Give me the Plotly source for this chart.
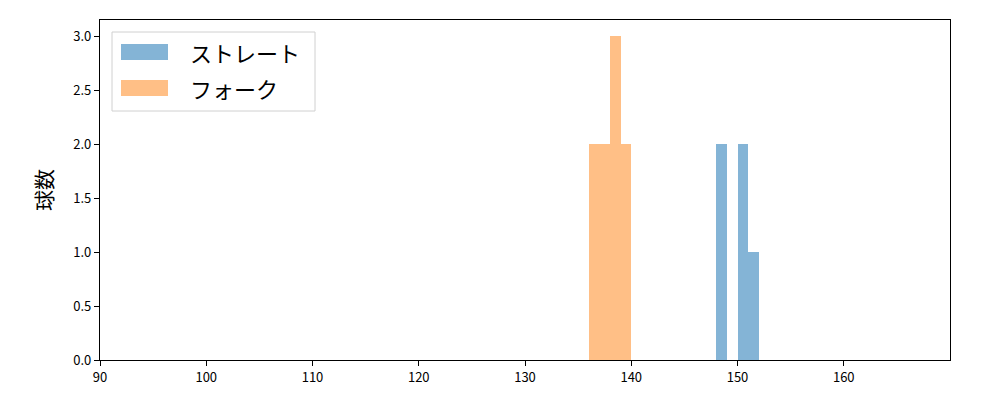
import plotly.graph_objects as go

# Histogram data (bin edges and counts)
straight_edges = [148, 149, 150, 151, 152]
straight_counts = [2, 0, 2, 1]
fork_edges = [136, 137, 138, 139, 140]
fork_counts = [2, 2, 3, 2]

series_names = ["ストレート", "フォーク"]
colors = ["rgba(31,119,180,0.55)", "rgba(255,127,14,0.5)"]

x_ticks = [90, 100, 110, 120, 130, 140, 150, 160]
y_ticks = [0.0, 0.5, 1.0, 1.5, 2.0, 2.5, 3.0]

FONT = "Noto Sans CJK JP"


def bar_trace(edges, counts, name, color):
    centers = [(edges[i] + edges[i + 1]) / 2 for i in range(len(counts))]
    widths = [edges[i + 1] - edges[i] for i in range(len(counts))]
    return go.Bar(x=centers, y=counts, width=widths, name=name,
                  marker=dict(color=color, line=dict(width=0)),
                  showlegend=False)


fig = go.Figure()
fig.add_trace(bar_trace(straight_edges, straight_counts, series_names[0], colors[0]))
fig.add_trace(bar_trace(fork_edges, fork_counts, series_names[1], colors[1]))

# page body has an 8px margin; compensate so the plot area lands at x 100-950, y 20-360
fig.update_layout(
    width=992, height=392,
    margin=dict(l=92, r=50, t=12, b=40),
    plot_bgcolor="white", paper_bgcolor="white",
    barmode="overlay", bargap=0,
    font=dict(family=FONT, size=13, color="black"),
)
fig.update_xaxes(range=[90, 170], tickvals=x_ticks, ticks="outside", ticklen=5,
                 tickcolor="black", showline=True, linecolor="black", linewidth=1.3,
                 mirror=True, showgrid=False, zeroline=False,
                 tickfont=dict(size=13))
fig.update_yaxes(range=[0, 3.15], tickvals=y_ticks, tickformat=".1f", ticks="outside",
                 ticklen=5, tickcolor="black", showline=True, linecolor="black",
                 linewidth=1.3, mirror=True, showgrid=False, zeroline=False,
                 tickfont=dict(size=13),
                 title=dict(text="球数", font=dict(size=21), standoff=14))

# Manual legend (matplotlib-like large swatches)
L, T = 92, 12  # offsets of plot area within figure (px)
W, H = 850, 340  # plot area in px


def px(x):
    return (x - 100) / W


def py(y):
    return 1 - (y - 20) / H


fig.add_shape(type="rect", xref="paper", yref="paper",
              x0=px(112), x1=px(315), y0=py(111), y1=py(32),
              line=dict(color="#d0d0d0", width=1), fillcolor="rgba(255,255,255,0.8)")
for i, (name, color) in enumerate(zip(series_names, colors)):
    top = 44 + i * 36
    fig.add_shape(type="rect", xref="paper", yref="paper",
                  x0=px(121), x1=px(168), y0=py(top + 16), y1=py(top),
                  line=dict(width=0), fillcolor=color)
    fig.add_annotation(xref="paper", yref="paper", x=px(188), y=py(top + 8),
                       text=name, showarrow=False, xanchor="left", yanchor="middle",
                       font=dict(size=22, family=FONT, color="black"))

fig.write_html("out.html")
